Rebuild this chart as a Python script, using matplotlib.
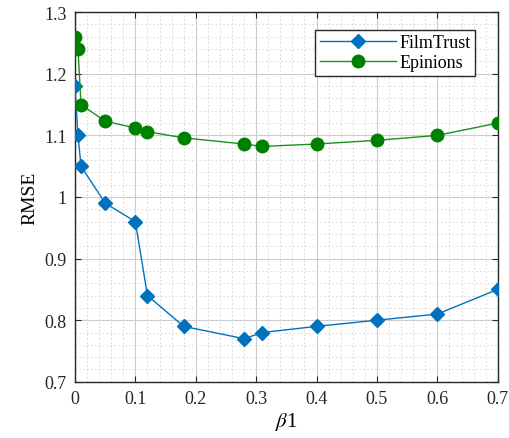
import matplotlib
matplotlib.use("Agg")
import matplotlib.pyplot as plt
from matplotlib.ticker import MultipleLocator

x_vals = [0, 0.005, 0.01, 0.05, 0.1, 0.12, 0.18, 0.28, 0.31, 0.4, 0.5, 0.6, 0.7]
filmtrust = [1.18, 1.10, 1.05, 0.99, 0.96, 0.84, 0.79, 0.77, 0.78, 0.79, 0.80, 0.81, 0.85]
epinions = [1.26, 1.24, 1.15, 1.123, 1.112, 1.106, 1.096, 1.086, 1.082, 1.086, 1.092, 1.10, 1.12]
xticks = [0, 0.1, 0.2, 0.3, 0.4, 0.5, 0.6, 0.7]
xticklabels = ["0", "0.1", "0.2", "0.3", "0.4", "0.5", "0.6", "0.7"]
yticks = [0.7, 0.8, 0.9, 1.0, 1.1, 1.2, 1.3]
yticklabels = ["0.7", "0.8", "0.9", "1", "1.1", "1.2", "1.3"]

plt.rcParams['font.family'] = ['Liberation Serif', 'DejaVu Serif']
plt.rcParams['mathtext.fontset'] = 'stix'

fig = plt.figure(figsize=(5.1, 4.39), dpi=100)
ax = fig.add_axes([0.147, 0.128, 0.829, 0.842])

ax.plot(x_vals, filmtrust, color='#0072BD', lw=1.0, marker='D', ms=7,
        markerfacecolor='#0072BD', markeredgecolor='#0072BD', label='FilmTrust', zorder=3)
ax.plot(x_vals, epinions, color='#1f8f1f', lw=1.0, marker='o', ms=9,
        markerfacecolor='#008000', markeredgecolor='#008000', label='Epinions', zorder=3)

ax.set_xlim(0, 0.7)
ax.set_ylim(0.7, 1.3)
ax.set_xticks(xticks)
ax.set_xticklabels(xticklabels)
ax.set_yticks(yticks)
ax.set_yticklabels(yticklabels)
ax.xaxis.set_minor_locator(MultipleLocator(0.02))
ax.yaxis.set_minor_locator(MultipleLocator(0.02))
ax.grid(which='major', color='#cccccc', lw=0.8)
ax.grid(which='minor', color='#d4d4d4', lw=0.7, ls=(0, (1.5, 2.5)))
ax.set_axisbelow(True)
ax.tick_params(which='major', direction='in', top=True, right=True, length=4,
               labelsize=13, colors='#262626', pad=6)
ax.tick_params(which='minor', length=0)
for s in ax.spines.values():
    s.set_color('#262626')
    s.set_linewidth(1.0)

ax.set_xlabel(r'$\beta$1', fontsize=15, labelpad=2)
ax.set_ylabel('RMSE', fontsize=14)

leg = ax.legend(loc='upper right', bbox_to_anchor=(0.946, 0.952), fontsize=13,
                frameon=True, fancybox=False, edgecolor='#262626', framealpha=1,
                handlelength=4.2, borderpad=0.25, labelspacing=0.15, handletextpad=0.2,
                borderaxespad=0)
leg.get_frame().set_linewidth(1.0)

fig.savefig('out.png', dpi=100)
